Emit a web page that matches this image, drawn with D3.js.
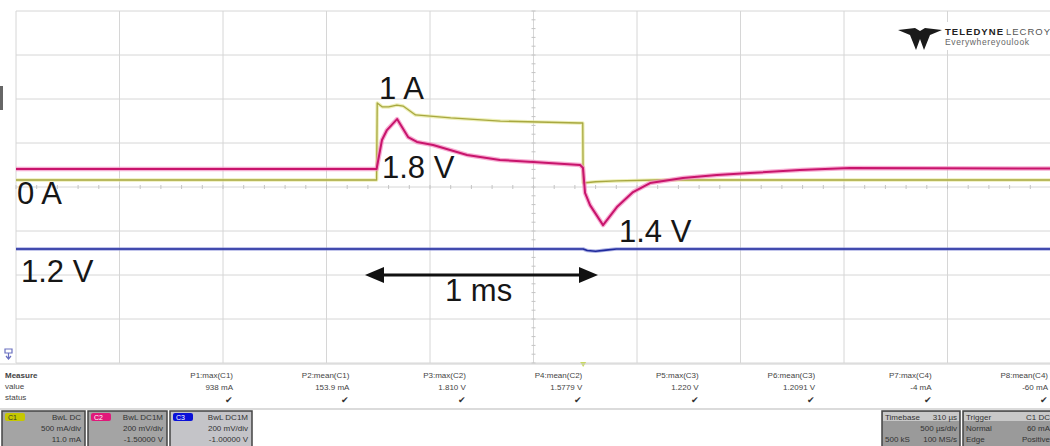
<!DOCTYPE html>
<html>
<head>
<meta charset="utf-8">
<script src="https://cdn.jsdelivr.net/npm/d3@7"></script>
<style>
  body { margin: 0; background: white; }
  text { font-family: "Liberation Sans", Arial, sans-serif; }
</style>
</head>
<body>
<div id="container"></div>
<script>
let w = 1050;
let h = 446;

// trace data (time in µs from left edge of screen)
let c1Time = [0, 1742, 1745, 1770, 1800, 1840, 1870, 1930, 2100, 2340, 2720, 2738, 2740, 2800, 2900, 3100, 5000];
let c1Amps = [0, 0, 0.875, 0.83, 0.83, 0.852, 0.84, 0.739, 0.705, 0.67, 0.648, 0.648, -0.034, -0.02, -0.011, 0, 0];

let c2Time = [0, 1742, 1768, 1792, 1841, 1894, 1937, 2015, 2179, 2338, 2498, 2725, 2739, 2749, 2773, 2836, 2903, 2981, 3063, 3222, 3386, 3546, 3787, 4029, 5000];
let c2Volts = [1.58, 1.58, 1.712, 1.757, 1.807, 1.725, 1.703, 1.689, 1.644, 1.621, 1.612, 1.598, 1.585, 1.471, 1.416, 1.325, 1.407, 1.475, 1.516, 1.539, 1.553, 1.562, 1.575, 1.585, 1.582];

let c3Time = [0, 2740, 2760, 2800, 2850, 2900, 5000];
let c3Volts = [1.2, 1.2, 1.193, 1.19, 1.195, 1.2, 1.2];

// measurement table
let measLabels = ["P1:max(C1)", "P2:mean(C1)", "P3:max(C2)", "P4:mean(C2)", "P5:max(C3)", "P6:mean(C3)", "P7:max(C4)", "P8:mean(C4)"];
let measValues = ["938 mA", "153.9 mA", "1.810 V", "1.5779 V", "1.220 V", "1.2091 V", "-4 mA", "-60 mA"];

// channel boxes
let chanNames = ["C1", "C2", "C3"];
let chanColors = ["#c6c800", "#e0187a", "#0a10d8"];
let chanLines = [["BwL DC", "500 mA/div", "11.0 mA"], ["BwL DC1M", "200 mV/div", "-1.50000 V"], ["BwL DC1M", "200 mV/div", "-1.00000 V"]];

let viz = d3.select("#container").append("svg")
    .attr("width", w)
    .attr("height", h)
    .style("display", "block")
    .style("background-color", "white");

// SCALES
let x = d3.scaleLinear().domain([0, 5000]).range([16, 1051]);
let yDiv = d3.scaleLinear().domain([4, -4]).range([11, 363]);
let yAmp = d3.scaleLinear().domain([0, 1]).range([180, 92]);
let yC2 = d3.scaleLinear().domain([1.58, 1.78]).range([169, 125]);
let yC3 = d3.scaleLinear().domain([1.2, 1.4]).range([249, 205]);

// GRID
let grid = viz.append("g");
grid.selectAll(".vg").data(d3.range(0, 11)).enter().append("line")
    .attr("x1", d => x(d * 500)).attr("x2", d => x(d * 500))
    .attr("y1", yDiv(4)).attr("y2", yDiv(-4))
    .attr("stroke", "#d6d6d6").attr("stroke-width", 1);
grid.selectAll(".hg").data(d3.range(-4, 5)).enter().append("line")
    .attr("x1", 16).attr("x2", w)
    .attr("y1", d => yDiv(d)).attr("y2", d => yDiv(d))
    .attr("stroke", "#d6d6d6").attr("stroke-width", 1);
// minor ticks on the centre lines
grid.selectAll(".ht").data(d3.range(0, 51)).enter().append("line")
    .attr("x1", d => x(d * 100)).attr("x2", d => x(d * 100))
    .attr("y1", yDiv(0) - 2).attr("y2", yDiv(0) + 2)
    .attr("stroke", "#c4c4c4");
grid.selectAll(".vt").data(d3.range(-20, 21)).enter().append("line")
    .attr("x1", x(2500) - 2).attr("x2", x(2500) + 2)
    .attr("y1", d => yDiv(d / 5)).attr("y2", d => yDiv(d / 5))
    .attr("stroke", "#c4c4c4");

// left edge mark
viz.append("rect").attr("x", 0).attr("y", 86).attr("width", 3).attr("height", 24).attr("fill", "#666");

// TRACES
function drawTrace(times, vals, yScale, halo, core, wHalo, wCore) {
  let pts = times.map((t, i) => [x(t), yScale(vals[i])]);
  let line = d3.line();
  viz.append("path").attr("d", line(pts)).attr("fill", "none")
      .attr("stroke", halo).attr("stroke-width", wHalo).attr("stroke-linejoin", "round").attr("opacity", 0.7);
  viz.append("path").attr("d", line(pts)).attr("fill", "none")
      .attr("stroke", core).attr("stroke-width", wCore).attr("stroke-linejoin", "round");
}
drawTrace(c3Time, c3Volts, yC3, "#8a90d8", "#1f2a9c", 3.5, 1.6);
drawTrace(c1Time, c1Amps, yAmp, "#e6e89a", "#a8a840", 3.5, 1.3);
drawTrace(c2Time, c2Volts, yC2, "#f38cc0", "#c8146c", 4.5, 2);

// ANNOTATIONS
let notes = [
  {t: "1 A", x: 379, y: 99},
  {t: "1.8 V", x: 382, y: 178},
  {t: "0 A", x: 17, y: 204},
  {t: "1.2 V", x: 21, y: 282},
  {t: "1.4 V", x: 619, y: 242},
  {t: "1 ms", x: 445, y: 301}
];
viz.selectAll(".note").data(notes).enter().append("text")
    .attr("x", d => d.x).attr("y", d => d.y)
    .attr("font-size", 31)
    .attr("fill", "#161616")
    .text(d => d.t);

// double arrow
let ay = 275;
viz.append("line").attr("x1", 378).attr("x2", 585).attr("y1", ay).attr("y2", ay)
    .attr("stroke", "#111").attr("stroke-width", 3);
viz.append("path").attr("d", `M365,${ay} L384,${ay - 8} L384,${ay + 8} Z`).attr("fill", "#111");
viz.append("path").attr("d", `M598,${ay} L579,${ay - 8} L579,${ay + 8} Z`).attr("fill", "#111");

// LOGO
let logo = viz.append("g");
logo.append("rect").attr("x", 895).attr("y", 22).attr("width", 155).attr("height", 28).attr("fill", "white");
logo.append("path")
    .attr("d", "M898,30 L915,28 L920,31 L925,28 L942,30 L930,35 L924,50 L920,39 L916,50 L910,35 Z")
    .attr("fill", "#1a1a1a");
logo.append("text").attr("x", 945).attr("y", 35).attr("font-size", 9.5).attr("font-weight", "bold")
    .attr("fill", "#222").attr("textLength", 58).text("TELEDYNE");
logo.append("text").attr("x", 1006).attr("y", 35).attr("font-size", 9.5)
    .attr("fill", "#555").attr("textLength", 44).text("LECROY");
logo.append("text").attr("x", 945).attr("y", 45).attr("font-size", 8.5)
    .attr("fill", "#666").attr("textLength", 84).text("Everywhereyoulook");

// trigger icons
viz.append("path").attr("d", "M5,349 L12,349 L12,353 L5,353 Z M8.5,353 L8.5,358 M6,356 L8.5,359 L11,356")
    .attr("fill", "none").attr("stroke", "#6a70c0").attr("stroke-width", 1.2);
viz.append("path").attr("d", `M${x(2740) - 3},362 L${x(2740) + 3},362 L${x(2740)},367 Z`).attr("fill", "#c8d860");

// MEASURE TABLE
viz.append("line").attr("x1", 0).attr("x2", w).attr("y1", 364).attr("y2", 364).attr("stroke", "#d0d0d0");
viz.append("line").attr("x1", 0).attr("x2", w).attr("y1", 409).attr("y2", 409).attr("stroke", "#cfcfcf").attr("stroke-width", 1.5);
let rowLabels = ["Measure", "value", "status"];
viz.selectAll(".rl").data(rowLabels).enter().append("text")
    .attr("x", 5).attr("y", (d, i) => 378 + i * 11)
    .attr("font-size", 8).attr("font-weight", (d, i) => i === 0 ? "bold" : "normal")
    .attr("fill", "#444").text(d => d);
let colX = d3.scaleLinear().domain([0, 7]).range([233, 1048]);
let cols = viz.selectAll(".mc").data(measLabels).enter().append("g");
cols.append("text").attr("x", (d, i) => colX(i)).attr("y", 378)
    .attr("text-anchor", "end").attr("font-size", 8).attr("fill", "#444").text(d => d);
cols.append("text").attr("x", (d, i) => colX(i)).attr("y", 390)
    .attr("text-anchor", "end").attr("font-size", 8).attr("fill", "#444").text((d, i) => measValues[i]);
cols.append("text").attr("x", (d, i) => colX(i)).attr("y", 403)
    .attr("text-anchor", "end").attr("font-size", 9).attr("fill", "#333").text("✔");

// CHANNEL BOXES
let boxX = [2, 88, 170];
let boxW = [83, 79, 82];
chanNames.forEach(function(name, i) {
  let g = viz.append("g");
  g.append("rect").attr("x", boxX[i]).attr("y", 411).attr("width", boxW[i]).attr("height", 36)
      .attr("fill", i === 2 ? "#c4c4c8" : "#a4a4a4").attr("stroke", "#444").attr("stroke-width", 1.5);
  g.append("rect").attr("x", boxX[i] + 3).attr("y", 413).attr("width", 20).attr("height", 8)
      .attr("rx", 2).attr("fill", chanColors[i]);
  g.append("text").attr("x", boxX[i] + 6).attr("y", 420).attr("font-size", 7)
      .attr("fill", i === 0 ? "#333" : "#fff").text(name);
  chanLines[i].forEach(function(t, j) {
    g.append("text").attr("x", boxX[i] + boxW[i] - 4).attr("y", 420 + j * 11)
        .attr("text-anchor", "end").attr("font-size", 8).attr("fill", "#333").text(t);
  });
});

// timebase / trigger boxes
let tbBoxes = [
  {x: 882, w: 78, head: ["Timebase", "310 µs"], rows: [["", "500 µs/div"], ["500 kS", "100 MS/s"]]},
  {x: 963, w: 90, head: ["Trigger", "C1 DC"], rows: [["Normal", "60 mA"], ["Edge", "Positive"]]}
];
tbBoxes.forEach(function(b) {
  let g = viz.append("g");
  g.append("rect").attr("x", b.x).attr("y", 411).attr("width", b.w).attr("height", 36)
      .attr("fill", "#9a9a9a").attr("stroke", "#444").attr("stroke-width", 1.5);
  g.append("rect").attr("x", b.x + 1).attr("y", 412).attr("width", b.w - 2).attr("height", 9).attr("fill", "#c8c8c8");
  g.append("text").attr("x", b.x + 3).attr("y", 419.5).attr("font-size", 8).attr("fill", "#333").text(b.head[0]);
  g.append("text").attr("x", b.x + b.w - 3).attr("y", 419.5).attr("text-anchor", "end").attr("font-size", 8).attr("fill", "#333").text(b.head[1]);
  b.rows.forEach(function(r, j) {
    g.append("text").attr("x", b.x + 3).attr("y", 431 + j * 11).attr("font-size", 8).attr("fill", "#333").text(r[0]);
    g.append("text").attr("x", b.x + b.w - 3).attr("y", 431 + j * 11).attr("text-anchor", "end").attr("font-size", 8).attr("fill", "#333").text(r[1]);
  });
});
</script>
</body>
</html>
